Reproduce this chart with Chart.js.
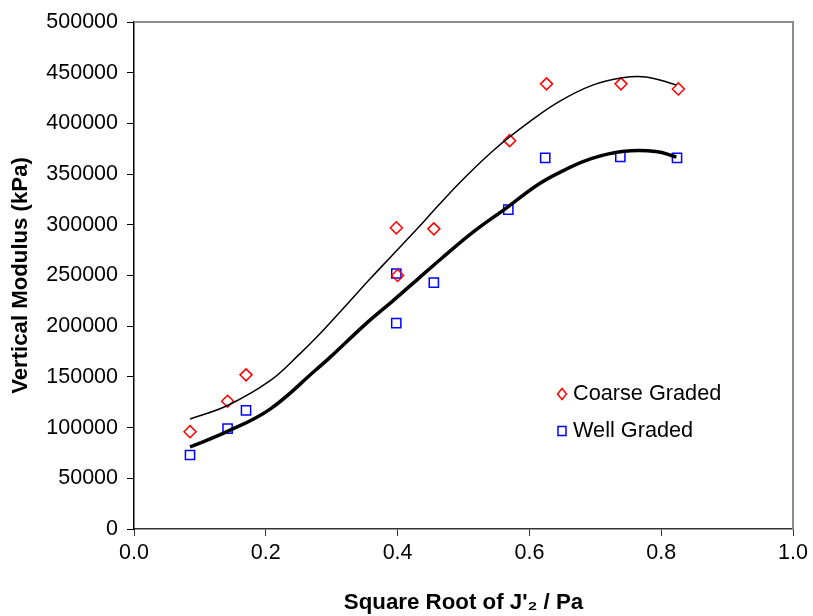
<!DOCTYPE html>
<html>
<head>
<meta charset="utf-8">
<script src="https://cdn.jsdelivr.net/npm/chart.js@4.4.1/dist/chart.umd.min.js"></script>
<style>
html,body{margin:0;padding:0;background:#fff;}
#wrap{width:813px;height:616px;}
</style>
</head>
<body>
<div id="wrap"><canvas id="c" width="813" height="616"></canvas></div>
<script>
// Measured points
const coarseX = [0.085, 0.142, 0.170, 0.398, 0.400, 0.455, 0.570, 0.626, 0.739, 0.826];
const coarseY = [96000, 126000, 152000, 297000, 250000, 296000, 383000, 439000, 439000, 434000];
const wellX = [0.085, 0.142, 0.170, 0.398, 0.398, 0.455, 0.568, 0.624, 0.738, 0.824];
const wellY = [73000, 99000, 117000, 252000, 203000, 243000, 315000, 366000, 367000, 366000];
// Fitted curves
const coarseFitX = [0.085, 0.141, 0.206, 0.252, 0.277, 0.323, 0.358, 0.392, 0.429, 0.461, 0.498, 0.550, 0.600, 0.645, 0.695, 0.741, 0.777, 0.823];
const coarseFitY = [108500, 121500, 146000, 173000, 189000, 221500, 246500, 270000, 295500, 318500, 344000, 376000, 401500, 421500, 437500, 445000, 445800, 438000];
const wellFitX = [0.085, 0.141, 0.206, 0.277, 0.297, 0.353, 0.392, 0.429, 0.467, 0.514, 0.567, 0.615, 0.658, 0.695, 0.741, 0.792, 0.823];
const wellFitY = [80900, 96000, 118000, 157500, 169000, 203000, 224500, 245500, 267000, 292500, 317500, 340500, 355500, 365500, 372300, 372300, 366900];
const xTicks = [0.0, 0.2, 0.4, 0.6, 0.8, 1.0];
const yTicks = [0, 50000, 100000, 150000, 200000, 250000, 300000, 350000, 400000, 450000, 500000];
const seriesNames = ['Coarse Graded', 'Well Graded'];
const xTitle = "Square Root of J'\u2082 / Pa";
const yTitle = 'Vertical Modulus (kPa)';

const pts = (xs, ys) => xs.map((x, i) => ({x: x, y: ys[i]}));
const FONT = "'Liberation Sans', Arial, sans-serif";

const frameLegend = {
  id: 'frameLegend',
  afterDraw(chart) {
    const ctx = chart.ctx, a = chart.chartArea;
    ctx.save();
    ctx.strokeStyle = '#8c8c8c';
    ctx.lineWidth = 2;
    ctx.beginPath();
    ctx.moveTo(a.left, a.top);
    ctx.lineTo(a.right, a.top);
    ctx.lineTo(a.right, a.bottom);
    ctx.stroke();
    // legend
    const lx = 562, ly = [394, 431];
    ctx.lineWidth = 1.5;
    ctx.strokeStyle = '#ff0000';
    ctx.beginPath();
    ctx.moveTo(lx, ly[0] - 5.5); ctx.lineTo(lx + 4.5, ly[0]); ctx.lineTo(lx, ly[0] + 5.5); ctx.lineTo(lx - 4.5, ly[0]); ctx.closePath();
    ctx.stroke();
    ctx.strokeStyle = '#0000ff';
    ctx.strokeRect(lx - 4, ly[1] - 4.5, 8, 9);
    ctx.fillStyle = '#000';
    ctx.font = '21.7px ' + FONT;
    ctx.textBaseline = 'middle';
    ctx.textAlign = 'left';
    ctx.fillText(seriesNames[0], 573, ly[0]);
    ctx.fillText(seriesNames[1], 573, ly[1]);
    ctx.restore();
  }
};

new Chart(document.getElementById('c'), {
  type: 'scatter',
  data: {
    datasets: [
      {label: 'Coarse fit', data: pts(coarseFitX, coarseFitY), showLine: true, borderColor: '#000', borderWidth: 1.5, pointRadius: 0, tension: 0.4, fill: false},
      {label: 'Well fit', data: pts(wellFitX, wellFitY), showLine: true, borderColor: '#000', borderWidth: 3.5, pointRadius: 0, tension: 0.4, fill: false},
      {label: seriesNames[0], data: pts(coarseX, coarseY), pointStyle: 'rectRot', pointRadius: 6, pointBorderColor: '#ff0000', pointBackgroundColor: 'rgba(0,0,0,0)', pointBorderWidth: 1.5, showLine: false},
      {label: seriesNames[1], data: pts(wellX, wellY), pointStyle: 'rect', pointRadius: 6.5, pointBorderColor: '#0000ff', pointBackgroundColor: 'rgba(0,0,0,0)', pointBorderWidth: 1.5, showLine: false}
    ]
  },
  options: {
    responsive: false,
    animation: false,
    events: [],
    layout: {padding: {top: 22, right: 20, left: 0, bottom: 0}},
    plugins: {legend: {display: false}, tooltip: {enabled: false}},
    scales: {
      x: {
        type: 'linear', min: 0, max: 1,
        afterFit(s) { s.height = 87; },
        afterBuildTicks(s) { s.ticks = xTicks.map(v => ({value: v})); },
        border: {color: '#333', width: 1.5},
        grid: {display: true, drawOnChartArea: false, drawTicks: true, tickLength: 7, color: '#333', lineWidth: 1},
        ticks: {color: '#000', font: {family: FONT, size: 21.5}, padding: 4, maxRotation: 0, callback: v => Number(v).toFixed(1)},
        title: {display: true, text: xTitle, color: '#000', font: {family: FONT, size: 22.3, weight: 'bold'}, padding: {top: 0, bottom: 0}}
      },
      y: {
        type: 'linear', min: 0, max: 500000,
        afterFit(s) { s.width = 134; },
        afterBuildTicks(s) { s.ticks = yTicks.map(v => ({value: v})); },
        border: {color: '#000', width: 1.5},
        grid: {display: true, drawOnChartArea: false, drawTicks: true, tickLength: 7, color: '#000', lineWidth: 1},
        ticks: {color: '#000', font: {family: FONT, size: 21.5}, padding: 9, callback: v => String(v)},
        title: {display: true, text: yTitle, color: '#000', font: {family: FONT, size: 22.2, weight: 'bold'}, padding: {top: 8, bottom: 0}}
      }
    }
  },
  plugins: [frameLegend]
});
</script>
</body>
</html>
